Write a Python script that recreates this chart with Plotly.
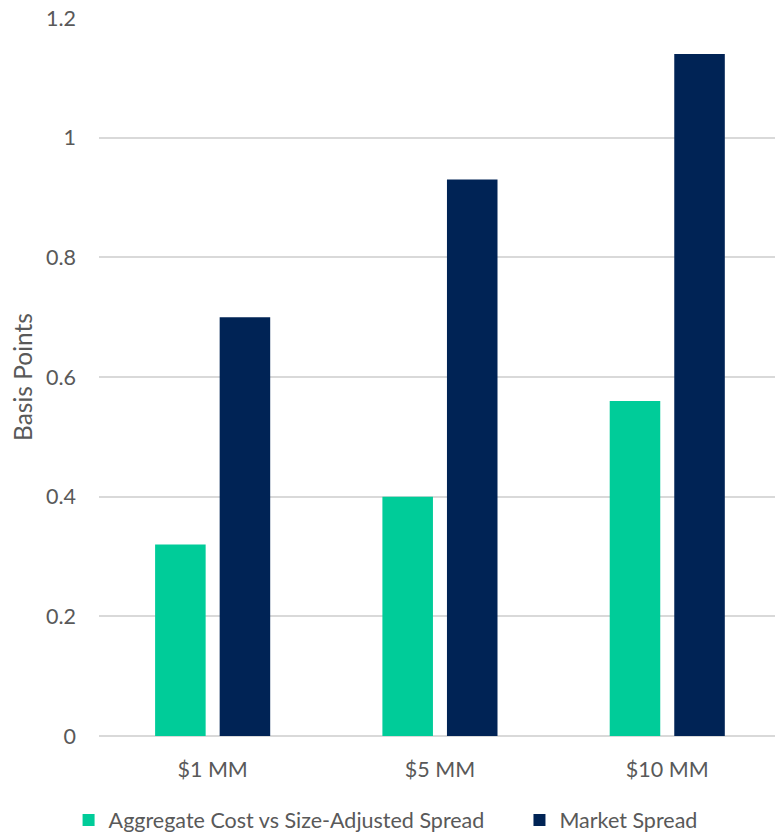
import plotly.graph_objects as go

# Trade size buckets and spreads (basis points)
categories = ["$1 MM", "$5 MM", "$10 MM"]
aggregate_cost = [0.32, 0.40, 0.56]
market_spread = [0.70, 0.93, 1.14]
y_ticks = [0, 0.2, 0.4, 0.6, 0.8, 1.0, 1.2]
y_tick_text = ["0", "0.2", "0.4", "0.6", "0.8", "1", "1.2"]

GREEN = "#00CC99"
NAVY = "#002355"
TEXT = "#595959"
GRID = "#D9D9D9"
FONT = "Lato"
TICK_SIZE = 21.5
TITLE_SIZE = 24.5

fig = go.Figure()
fig.add_trace(go.Bar(
    x=categories, y=aggregate_cost, name="Aggregate Cost vs Size-Adjusted Spread",
    marker=dict(color=GREEN, line=dict(width=0)), legend="legend",
))
fig.add_trace(go.Bar(
    x=categories, y=market_spread, name="Market Spread",
    marker=dict(color=NAVY, line=dict(width=0)), legend="legend2",
))

legend_style = dict(
    orientation="h", xanchor="left", y=-0.117, yanchor="middle",
    font=dict(family=FONT, size=TICK_SIZE, color=TEXT),
    itemclick=False, bgcolor="rgba(0,0,0,0)",
)

fig.update_layout(
    width=775, height=835,
    margin=dict(l=99, r=0, t=18, b=99, autoexpand=False),
    paper_bgcolor="white", plot_bgcolor="white",
    barmode="group", bargap=0.432, bargroupgap=0.217,
    font=dict(family=FONT, size=TICK_SIZE, color=TEXT),
    showlegend=True,
    legend=dict(x=-0.045, **legend_style),
    legend2=dict(x=0.622, **legend_style),
    xaxis=dict(
        type="category", range=[-0.5, 2.474],
        showgrid=False, showline=False, zeroline=False,
        ticks="", tickangle=0, ticklabelstandoff=18,
        tickfont=dict(size=TICK_SIZE, color=TEXT),
    ),
    yaxis=dict(
        range=[0, 1.2], tickvals=y_ticks, ticktext=y_tick_text,
        showgrid=True, gridcolor=GRID, gridwidth=1.5,
        zeroline=True, zerolinecolor=GRID, zerolinewidth=1.5,
        showline=False, ticks="", ticklabelstandoff=22,
        tickfont=dict(size=TICK_SIZE, color=TEXT),
        title=dict(text="Basis Points", font=dict(size=TITLE_SIZE, color=TEXT), standoff=6),
    ),
)

fig.write_html("out.html")
